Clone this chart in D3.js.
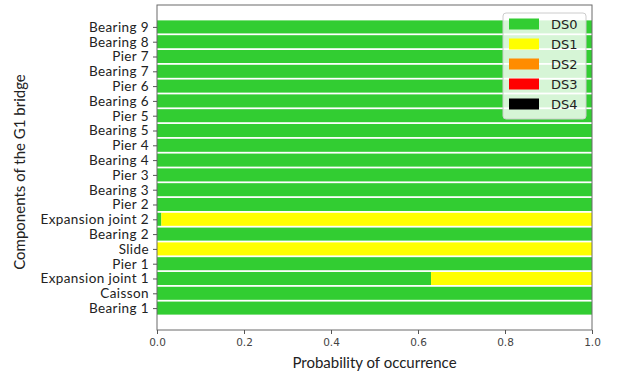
<!DOCTYPE html>
<html><head><meta charset="utf-8">
<script src="https://cdn.jsdelivr.net/npm/d3@7"></script>
<style>body{margin:0;background:#fff}svg{display:block}</style>
</head><body>
<script>
// components, bottom to top
const components = ["Bearing 1","Caisson","Expansion joint 1","Pier 1","Slide","Bearing 2","Expansion joint 2","Pier 2","Bearing 3","Pier 3","Bearing 4","Pier 4","Bearing 5","Pier 5","Bearing 6","Pier 6","Bearing 7","Pier 7","Bearing 8","Bearing 9"];
const DS0 = [1,1,0.63,1,0,1,0.01,1,1,1,1,1,1,1,1,1,1,1,1,1];
const DS1 = [0,0,0.37,0,1,0,0.99,0,0,0,0,0,0,0,0,0,0,0,0,0];
const DS2 = [0,0,0,0,0,0,0,0,0,0,0,0,0,0,0,0,0,0,0,0];
const DS3 = [0,0,0,0,0,0,0,0,0,0,0,0,0,0,0,0,0,0,0,0];
const DS4 = [0,0,0,0,0,0,0,0,0,0,0,0,0,0,0,0,0,0,0,0];
const seriesNames = ["DS0","DS1","DS2","DS3","DS4"];
const seriesColors = ["#32cd32","#ffff00","#ff8c00","#ff0000","#000000"];
const xTicks = [0,0.2,0.4,0.6,0.8,1.0];

const W = 619, H = 374;
const L = 157, R = 592, T = 5, B = 330;
const svg = d3.select("body").append("svg").attr("width", W).attr("height", H);

const x = d3.scaleLinear().domain([0,1]).range([L,R]);
const n = components.length;
const y = d3.scaleLinear().domain([-1.48, n - 1 + 1.48]).range([B,T]);
const barH = 0.88;

const allSeries = [DS0,DS1,DS2,DS3,DS4];
const rows = components.map((c,i)=>{ const o={comp:c,i}; seriesNames.forEach((s,k)=>o[s]=allSeries[k][i]); return o; });
const stack = d3.stack().keys(seriesNames)(rows);

const g = svg.append("g");
stack.forEach((layer,k)=>{
  g.selectAll(null).data(layer.filter(d=>d[1]-d[0]>0)).enter().append("rect")
    .attr("x", d=>x(d[0]))
    .attr("width", d=>x(d[1])-x(d[0]))
    .attr("y", d=>y(d.data.i + barH/2))
    .attr("height", d=>y(d.data.i - barH/2) - y(d.data.i + barH/2))
    .attr("fill", seriesColors[k]);
});

// frame
svg.append("rect").attr("x",L).attr("y",T).attr("width",R-L).attr("height",B-T)
  .attr("fill","none").attr("stroke","#6b6b6b").attr("stroke-width",1);

// x axis
const xAxis = svg.append("g").attr("transform",`translate(0,${B})`)
  .call(d3.axisBottom(x).tickValues(xTicks).tickFormat(d3.format(".1f")).tickSizeOuter(0).tickSize(4).tickPadding(5));
xAxis.select(".domain").remove();
xAxis.selectAll("line").attr("stroke","#555");
xAxis.selectAll("text").attr("font-family","DejaVu Sans").attr("font-size","10.5px").attr("fill","#444");

// y axis
const yAxis = svg.append("g").attr("transform",`translate(${L},0)`)
  .call(d3.axisLeft(y).tickValues(d3.range(n)).tickFormat(i=>components[i]).tickSize(4).tickPadding(4).tickSizeOuter(0));
yAxis.select(".domain").remove();
yAxis.selectAll("line").attr("stroke","#555");
yAxis.selectAll("text").attr("font-family","Lato").attr("font-size","13.5px").attr("letter-spacing","0.4px").attr("fill","#222");

// axis titles
svg.append("text").attr("x",(L+R)/2).attr("y",368).attr("text-anchor","middle")
  .attr("font-family","Lato").attr("font-size","15px").attr("fill","#222").text("Probability of occurrence");
svg.append("text").attr("transform","translate(25,172) rotate(-90)").attr("text-anchor","middle")
  .attr("font-family","Lato").attr("font-size","15px").attr("fill","#222").text("Components of the G1 bridge");

// legend
const lg = svg.append("g");
lg.append("rect").attr("x",503).attr("y",13).attr("width",83).attr("height",106).attr("rx",3)
  .attr("fill","#fff").attr("fill-opacity",0.8).attr("stroke","#cccccc").attr("stroke-width",1);
seriesNames.forEach((s,k)=>{
  const cy = 24 + k*20;
  lg.append("rect").attr("x",509).attr("y",cy-5.5).attr("width",30).attr("height",11).attr("fill",seriesColors[k]);
  lg.append("text").attr("x",551).attr("y",cy).attr("dy","0.36em")
    .attr("font-family","DejaVu Sans").attr("font-size","13px").attr("fill","#222").text(s);
});
</script>
</body></html>
